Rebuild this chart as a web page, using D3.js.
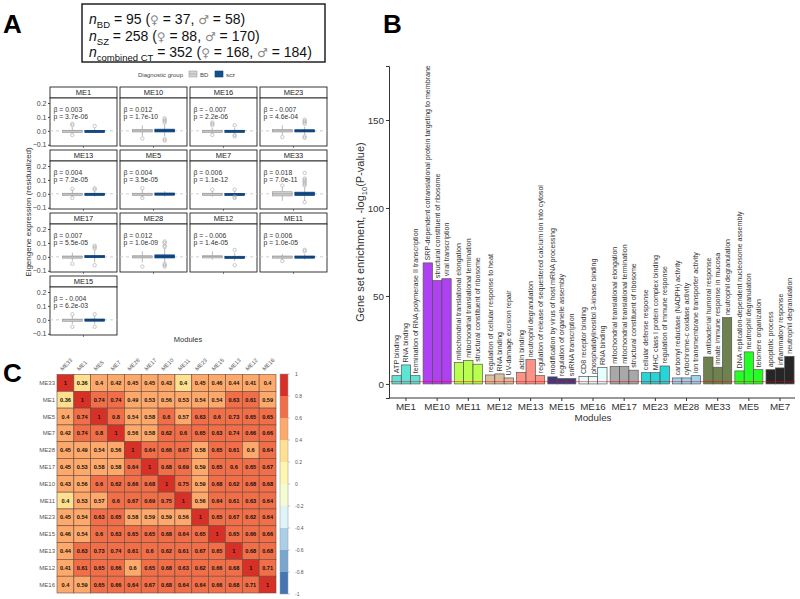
<!DOCTYPE html>
<html><head><meta charset="utf-8">
<script src="https://cdn.jsdelivr.net/npm/d3@7"></script>
<style>
body{margin:0;background:#fff}
svg{display:block}
text{font-family:"Liberation Sans",Arial,Helvetica,sans-serif}
</style>
</head><body>
<svg id="chart" width="800" height="599"></svg>
<script>
// ---------------- Panel A data ----------------
const facetNames = ["ME1","ME10","ME16","ME23","ME13","ME5","ME7","ME33","ME17","ME28","ME12","ME11","ME15"];
const betaLabels = ["0.003","0.012","- 0.007","- 0.007","0.004","0.004","0.006","0.018","0.007","0.012","- 0.006","0.006","- 0.004"];
const pLabels = ["3.7e-06","1.7e-10","2.2e-06","4.6e-04","7.2e-05","3.5e-05","1.1e-12","7.0e-11","5.5e-05","1.0e-09","1.4e-05","1.0e-05","6.2e-03"];
const diagGroups = ["BD","scz"];
// box stats: [lower whisker, q1, median, q3, upper whisker]
const bdBox = [
  [-0.02,-0.004,0,0.004,0.025],[-0.04,-0.008,0,0.01,0.04],[-0.02,-0.004,0,0.004,0.02],[-0.03,-0.008,0,0.01,0.04],
  [-0.02,-0.004,0,0.004,0.03],[-0.025,-0.004,0,0.004,0.03],[-0.02,-0.004,0,0.004,0.02],[-0.05,-0.015,0,0.015,0.05],
  [-0.03,-0.006,0,0.006,0.03],[-0.04,-0.008,0,0.008,0.04],[-0.02,-0.004,0.002,0.008,0.04],[-0.02,-0.006,0,0.006,0.02],
  [-0.03,-0.005,0,0.005,0.03]];
const sczBox = [
  [-0.015,-0.003,0,0.003,0.02],[-0.04,-0.008,0.002,0.012,0.05],[-0.02,-0.004,0,0.004,0.02],[-0.03,-0.008,0,0.008,0.03],
  [-0.02,-0.004,0,0.004,0.02],[-0.02,-0.004,0,0.006,0.02],[-0.02,-0.004,0,0.003,0.02],[-0.05,-0.012,0.002,0.012,0.05],
  [-0.04,-0.006,0,0.01,0.05],[-0.04,-0.008,0.002,0.014,0.06],[-0.03,-0.006,-0.002,0.004,0.03],[-0.02,-0.004,0,0.006,0.02],
  [-0.03,-0.004,0,0.006,0.03]];
const bdOutliers = [
  [0.04,0.05,-0.03],[-0.055],[0.04,0.05,0.06,-0.03],[-0.045],
  [0.035,-0.03],[0.04,-0.03],[0.03],[0.06],
  [-0.05],[-0.07],[],[-0.03],
  [0.04,-0.05]];
const sczOutliers = [
  [0.035],[0.06,0.07,0.08,0.09,-0.06,-0.07],[0.04,-0.03,-0.04],[0.05,0.06,0.07,0.08,-0.04,-0.05],
  [0.04,0.03],[],[0.03,-0.02,-0.03],[0.06,0.07,0.08,0.09,0.1,0.11,0.15,-0.06],
  [0.06,0.07,0.08,-0.06],[0.07,0.08,0.1,0.11,-0.05,-0.06,-0.07],[0.05,-0.06],[0.04,0.05],
  [0.04,-0.05]];
const yTicksA = [-0.1,0.0,0.1,0.2];

// ---------------- Panel B data ----------------
const modulesB = ["ME1","ME10","ME11","ME12","ME13","ME15","ME16","ME17","ME23","ME28","ME33","ME5","ME7"];
const moduleColors = ["#40E0D0","#A020F0","#ADFF2F","#D2B48C","#FA8072","#191970","#E0FFFF","#999999","#00CED1","#87CEEB","#556B2F","#00FF00","#000000"];
const termNames = [
  ["ATP binding","RNA binding","termination of RNA polymerase II transcription"],
  ["SRP-dependent cotranslational protein targeting to membrane","structural constituent of ribosome","viral transcription"],
  ["mitochondrial translational elongation","mitochondrial translational termination","structural constituent of ribosome"],
  ["regulation of cellular response to heat","RNA binding","UV-damage excision repair"],
  ["actin binding","neutrophil degranulation","regulation of release of sequestered calcium ion into cytosol"],
  ["modification by virus of host mRNA processing","regulation of organelle assembly","snRNA transcription"],
  ["CD8 receptor binding","phosphatidylinositol 3-kinase binding","RNA binding"],
  ["mitochondrial translational elongation","mitochondrial translational termination","structural constituent of ribosome"],
  ["cellular defense response","MHC class I protein complex binding","regulation of immune response"],
  ["carbonyl reductase (NADPH) activity","cytochrome-c oxidase activity","ion transmembrane transporter activity"],
  ["antibacterial humoral response","innate immune response in mucosa","neutrophil degranulation"],
  ["DNA replication-dependent nucleosome assembly","neutrophil degranulation","telomere organization"],
  ["apoptotic process","inflammatory response","neutrophil degranulation"]];
const enrichValues = [
  [4.7,10.8,4.7],[68.8,58.7,59.8],[12.1,13.4,11.2],[5.1,5.7,3.4],[6.6,13.8,4.7],[4.0,3.0,3.0],[4.2,4.2,9.3],
  [10.0,10.0,7.8],[6.4,6.4,10.2],[3.4,3.4,4.7],[15.3,9.5,37.7],[7.4,18.2,8.1],[8.1,9.1,15.7]];
const yTicksB = [0,50,100,150];
const sigThreshold = 1.3;

// ---------------- Panel C data ----------------
const corrModules = ["ME33","ME1","ME5","ME7","ME28","ME17","ME10","ME11","ME23","ME15","ME13","ME12","ME16"];
const corrValues = [
  [1,0.36,0.404,0.42,0.45,0.45,0.43,0.396,0.45,0.46,0.44,0.41,0.404],
  [0.36,1,0.74,0.74,0.49,0.53,0.56,0.53,0.54,0.54,0.63,0.61,0.59],
  [0.404,0.74,1,0.798,0.54,0.58,0.6,0.57,0.63,0.6,0.73,0.65,0.65],
  [0.42,0.74,0.798,1,0.56,0.58,0.62,0.6,0.65,0.63,0.74,0.66,0.66],
  [0.45,0.49,0.54,0.56,1,0.64,0.66,0.67,0.58,0.65,0.61,0.598,0.64],
  [0.45,0.53,0.58,0.58,0.64,1,0.68,0.69,0.59,0.65,0.6,0.65,0.67],
  [0.43,0.56,0.6,0.62,0.66,0.68,1,0.75,0.59,0.68,0.62,0.68,0.68],
  [0.396,0.53,0.57,0.6,0.67,0.69,0.75,1,0.56,0.64,0.61,0.63,0.64],
  [0.45,0.54,0.63,0.65,0.58,0.59,0.59,0.56,1,0.65,0.67,0.62,0.64],
  [0.46,0.54,0.6,0.63,0.65,0.65,0.68,0.64,0.65,1,0.65,0.66,0.66],
  [0.44,0.63,0.73,0.74,0.61,0.6,0.62,0.61,0.67,0.65,1,0.68,0.68],
  [0.41,0.61,0.65,0.66,0.598,0.65,0.68,0.63,0.62,0.66,0.68,1,0.71],
  [0.404,0.59,0.65,0.66,0.64,0.67,0.68,0.64,0.64,0.66,0.68,0.71,1]];
const corrPalette = ["#4575B4","#78A6CE","#ABD0E5","#E0F3F8","#F5FBD2","#FFF5AF","#FEE090","#FDA96B","#F06E48","#D73027"];
const colorbarTicks = [1,0.8,0.6,0.4,0.2,0,-0.2,-0.4,-0.6,-0.8,-1];

// ================= drawing =================
const svg = d3.select("#chart");

// panel letters
[["A",3,33],["B",383,33],["C",3,382]].forEach(([t,x,y])=>{
  svg.append("text").attr("x",x).attr("y",y).attr("font-size",26).attr("font-weight","bold").text(t);
});

// ---------- Panel A ----------
const hdr = svg.append("g");
hdr.append("rect").attr("x",82).attr("y",4).attr("width",243).attr("height",58)
  .attr("fill","#fff").attr("stroke","#222").attr("stroke-width",1.5);
const hdrLines = [
  {sub:"BD", n:"95", f:"37", m:"58"},
  {sub:"SZ", n:"258", f:"88", m:"170"},
  {sub:"combined CT", n:"352", f:"168", m:"184"}];
hdrLines.forEach((d,i)=>{
  const t = hdr.append("text").attr("x",89).attr("y",24+i*16.5).attr("font-size",14).attr("fill","#111");
  t.append("tspan").attr("font-style","italic").text("n");
  t.append("tspan").attr("font-size",9.5).attr("dy",4).text(d.sub);
  t.append("tspan").attr("dy",-4).text(" = "+d.n+" (");
  t.append("tspan").attr("fill","#888").attr("font-family","DejaVu Sans").attr("font-size",12).text("♀");
  t.append("tspan").text(" = "+d.f+", ");
  t.append("tspan").attr("fill","#888").attr("font-family","DejaVu Sans").attr("font-size",12).text("♂");
  t.append("tspan").text(" = "+d.m+")");
});

// legend
const leg = svg.append("g").attr("font-size",6).attr("fill","#444");
leg.append("text").attr("x",138).attr("y",76.5).text("Diagnostic group");
leg.append("rect").attr("x",189).attr("y",71).attr("width",8).attr("height",6).attr("fill","#D3D3D3").attr("stroke","#9E9E9E").attr("stroke-width",0.6);
leg.append("line").attr("x1",189).attr("x2",197).attr("y1",74).attr("y2",74).attr("stroke","#9E9E9E").attr("stroke-width",0.6);
leg.append("text").attr("x",200).attr("y",76.5).text("BD");
leg.append("rect").attr("x",215).attr("y",71).attr("width",8).attr("height",6).attr("fill","#12508E").attr("stroke","#0b3d73").attr("stroke-width",0.6);
leg.append("text").attr("x",226).attr("y",76.5).text("scz");

const facetW = 67, stripH = 11, panelH = 48;
facetNames.forEach((name,i)=>{
  const c = i % 4, r = Math.floor(i/4);
  const x0 = 50 + c*70, st = 87 + r*63, pt = st + stripH;
  const g = svg.append("g");
  const y = d3.scaleLinear().domain([-0.109,0.236]).range([pt+panelH, pt]);
  const x = d3.scaleBand().domain(diagGroups).range([x0+12.5, x0+54.5]).paddingInner(0.12);
  g.append("rect").attr("x",x0).attr("y",st).attr("width",facetW).attr("height",stripH)
    .attr("fill","#fff").attr("stroke","#222").attr("stroke-width",0.9);
  g.append("text").attr("x",x0+facetW/2).attr("y",st+8).attr("text-anchor","middle")
    .attr("font-size",7.5).attr("fill","#222").text(name);
  g.append("rect").attr("x",x0).attr("y",pt).attr("width",facetW).attr("height",panelH)
    .attr("fill","#fff").attr("stroke","#222").attr("stroke-width",0.9);
  g.append("line").attr("x1",x0).attr("x2",x0+facetW).attr("y1",y(0)).attr("y2",y(0))
    .attr("stroke","#c8c8c8").attr("stroke-dasharray","3,3").attr("stroke-width",0.9);
  [[bdBox[i],bdOutliers[i],"BD","#D3D3D3","#9E9E9E"],[sczBox[i],sczOutliers[i],"scz","#12508E","#0b3d73"]].forEach(([b,outs,grp,fill,stroke])=>{
    const bx = x(grp), bw = x.bandwidth(), cx = bx + bw/2;
    g.append("line").attr("x1",cx).attr("x2",cx).attr("y1",y(b[0])).attr("y2",y(b[4]))
      .attr("stroke","#a8a8a8").attr("stroke-width",0.8);
    const top = y(b[3]), bot = y(b[1]);
    g.append("rect").attr("x",bx).attr("y",top).attr("width",bw).attr("height",Math.max(bot-top,2.2))
      .attr("fill",fill).attr("stroke",stroke).attr("stroke-width",0.7);
    g.append("line").attr("x1",bx).attr("x2",bx+bw).attr("y1",y(b[2])).attr("y2",y(b[2]))
      .attr("stroke",stroke).attr("stroke-width",0.8);
    outs.forEach(o=>{
      g.append("circle").attr("cx",cx).attr("cy",y(o)).attr("r",1.7)
        .attr("fill","none").attr("stroke","#b0b0b0").attr("stroke-width",0.7);
    });
  });
  g.append("text").attr("x",x0+3.5).attr("y",y(0.15)+2.5).attr("font-size",6.8).attr("fill","#333").text("β = "+betaLabels[i]);
  g.append("text").attr("x",x0+3.5).attr("y",y(0.1)+2.5).attr("font-size",6.8).attr("fill","#333").text("p = "+pLabels[i]);
  g.append("line").attr("x1",x0+facetW/2).attr("x2",x0+facetW/2).attr("y1",pt+panelH).attr("y2",pt+panelH+2).attr("stroke","#333").attr("stroke-width",0.6);
  if (c===0){
    const ax = g.append("g").attr("transform",`translate(${x0},0)`)
      .call(d3.axisLeft(y).tickValues(yTicksA).tickFormat(d3.format(".1f")).tickSize(2).tickPadding(1.5));
    ax.select(".domain").remove();
    ax.selectAll("text").attr("font-size",7).attr("fill","#444").attr("font-family","Liberation Sans, Arial, sans-serif");
    ax.selectAll("line").attr("stroke","#444");
  }
});
svg.append("text").attr("transform","translate(31,212) rotate(-90)").attr("text-anchor","middle")
  .attr("font-size",8).attr("fill","#333").text("Eigengene expression (residualized)");
svg.append("text").attr("x",188).attr("y",342).attr("text-anchor","middle").attr("font-size",7.5).attr("fill","#333").text("Modules");

// ---------- Panel B ----------
const yB = d3.scaleLinear().domain([-8,180.7]).range([398,66]);
const xB = d3.scaleBand().domain(modulesB).range([391,795]).paddingInner(0.1).paddingOuter(0.03);
const gB = svg.append("g");
modulesB.forEach((m,mi)=>{
  const sub = d3.scaleBand().domain([0,1,2]).range([xB(m), xB(m)+xB.bandwidth()]);
  enrichValues[mi].forEach((v,k)=>{
    const bx = sub(k), bw = sub.bandwidth();
    gB.append("rect").attr("x",bx).attr("y",yB(v)).attr("width",bw).attr("height",yB(0)-yB(v))
      .attr("fill",moduleColors[mi]).attr("fill-opacity",0.85).attr("stroke","#555").attr("stroke-width",0.7);
    gB.append("text").attr("transform",`translate(${bx+bw/2},${yB(v)-2.5}) rotate(-90)`)
      .attr("dy","0.35em").attr("font-size",7.1).attr("fill","#333").text(termNames[mi][k]);
  });
});
gB.append("line").attr("x1",389).attr("x2",795).attr("y1",yB(sigThreshold)).attr("y2",yB(sigThreshold))
  .attr("stroke","#E8000B").attr("stroke-opacity",0.75).attr("stroke-width",0.7);
const axYB = gB.append("g").attr("transform","translate(389,0)").call(d3.axisLeft(yB).tickValues(yTicksB).tickSize(3).tickPadding(2));
axYB.select(".domain").attr("stroke","#333").attr("stroke-width",1);
axYB.selectAll("text").attr("font-size",9.8).attr("fill","#333").attr("font-family","Liberation Sans, Arial, sans-serif");
axYB.selectAll(".tick line").attr("stroke","#333");
const axXB = gB.append("g").attr("transform","translate(0,398)").call(d3.axisBottom(xB).tickSize(3).tickPadding(2));
axXB.select(".domain").attr("d","M389,0H795").attr("stroke","#333").attr("stroke-width",1);
axXB.selectAll("text").attr("font-size",9.8).attr("fill","#333").attr("font-family","Liberation Sans, Arial, sans-serif");
axXB.selectAll(".tick line").attr("stroke","#333");
gB.append("text").attr("x",593).attr("y",421).attr("text-anchor","middle").attr("font-size",9.8).attr("fill","#333").text("Modules");
const tB = gB.append("text").attr("transform","translate(364,232) rotate(-90)").attr("text-anchor","middle")
  .attr("font-size",11).attr("fill","#333");
tB.append("tspan").text("Gene set enrichment, -log");
tB.append("tspan").attr("font-size",7.5).attr("dy",3).text("10");
tB.append("tspan").attr("dy",-3).text("(P-value)");

// ---------- Panel C ----------
const xC = d3.scaleBand().domain(corrModules).range([57,276]);
const yC = d3.scaleBand().domain(corrModules).range([374.5,593]);
const colC = d3.scaleQuantize().domain([-1,1]).range(corrPalette);
const fmt = v => String(+v.toFixed(2));
const gC = svg.append("g");
corrModules.forEach((rm,ri)=>{
  corrModules.forEach((cm,ci)=>{
    const v = corrValues[ri][ci];
    gC.append("rect").attr("x",xC(cm)).attr("y",yC(rm)).attr("width",xC.bandwidth()).attr("height",yC.bandwidth())
      .attr("fill",colC(Math.min(v,0.9999))).attr("stroke","#6b4a3f").attr("stroke-width",0.6);
    gC.append("text").attr("x",xC(cm)+xC.bandwidth()/2).attr("y",yC(rm)+yC.bandwidth()/2+2)
      .attr("text-anchor","middle").attr("font-size",5.6).attr("font-weight","bold").attr("fill","#111").text(fmt(v));
  });
  gC.append("text").attr("x",55).attr("y",yC(rm)+yC.bandwidth()/2+2).attr("text-anchor","end")
    .attr("font-size",6).attr("fill","#555").text(rm);
  gC.append("text").attr("transform",`translate(${xC(rm)+xC.bandwidth()/2-3},371) rotate(-45)`)
    .attr("font-size",5.6).attr("fill","#555").text(rm);
});
const yCB = d3.scaleLinear().domain([1,-1]).range([374,594]);
corrPalette.forEach((c,k)=>{
  const lo = -1 + k*0.2, hi = lo + 0.2;
  gC.append("rect").attr("x",280).attr("y",yCB(hi)).attr("width",8).attr("height",yCB(lo)-yCB(hi))
    .attr("fill",c);
});
gC.append("rect").attr("x",280).attr("y",374).attr("width",8).attr("height",220).attr("fill","none").attr("stroke","#999").attr("stroke-width",0.5);
colorbarTicks.forEach(t=>{
  gC.append("line").attr("x1",288).attr("x2",290).attr("y1",yCB(t)).attr("y2",yCB(t)).attr("stroke","#999").attr("stroke-width",0.5);
  gC.append("text").attr("x",295).attr("y",yCB(t)+1.8).attr("font-size",5).attr("fill","#555").text(String(t));
});
</script>
</body></html>
